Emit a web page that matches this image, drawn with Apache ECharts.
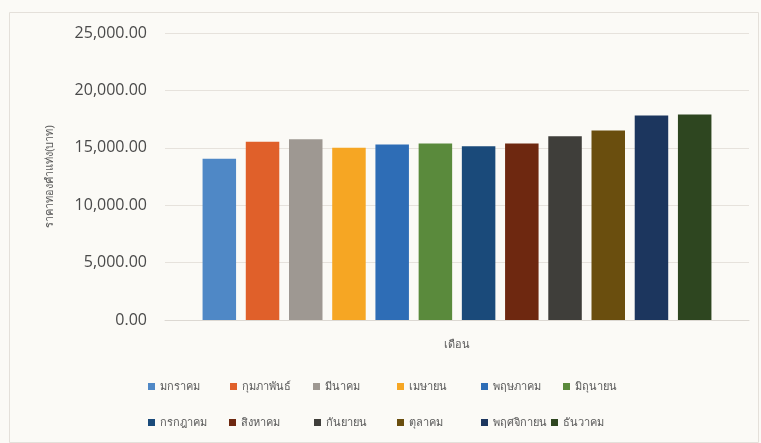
<!DOCTYPE html>
<html>
<head>
<meta charset="utf-8">
<script src="https://cdn.jsdelivr.net/npm/echarts@6/dist/echarts.min.js"></script>
<style>
html,body{margin:0;padding:0;background:#fbfaf6;}
#c{width:761px;height:443px;}
</style>
</head>
<body>
<div id="c"></div>
<script>
const months = ['มกราคม','กุมภาพันธ์','มีนาคม','เมษายน','พฤษภาคม','มิถุนายน','กรกฎาคม','สิงหาคม','กันยายน','ตุลาคม','พฤศจิกายน','ธันวาคม'];
const prices = [14040, 15520, 15750, 15000, 15290, 15380, 15140, 15380, 16010, 16510, 17810, 17900];
const colors = ['#4f88c6','#e0602a','#9e9892','#f6a623','#2e6db6','#5a8a3c','#1a4a7a','#6e2810','#3f3e3a','#6a4e0e','#1c365e','#2e4620'];
const yTicks = [0, 5000, 10000, 15000, 20000, 25000];
const xTitle = 'เดือน';
const yTitle = 'ราคาทองคำแท่ง(บาท)';

const chart = echarts.init(document.getElementById('c'));
const thaiFont = '"Noto Sans", "DejaVu Sans", sans-serif';

const series = months.map((m, i) => ({
  name: m,
  type: 'bar',
  data: [prices[i]],
  barWidth: 33.5,
  barGap: '29%',
  itemStyle: { color: colors[i] }
}));

// legend layout: Excel-like two rows of six columns
const legendCols = [[148, 230, 313, 397, 481, 563], [148, 229, 314, 397, 481, 551]];
const legendRowTop = [376, 412];
const legends = months.map((m, i) => {
  const row = Math.floor(i / 6), col = i % 6;
  return {
    data: [m],
    left: legendCols[row][col] - 5,
    top: legendRowTop[row],
    itemWidth: 7,
    itemHeight: 7,
    itemGap: 0,
    icon: 'rect',
    textStyle: { fontFamily: thaiFont, fontSize: 11, color: '#595959' }
  };
});

chart.setOption({
  backgroundColor: '#fbfaf6',
  animation: false,
  graphic: [{
    type: 'rect', left: 7, top: 10,
    shape: { width: 749, height: 430 },
    style: { fill: 'none', stroke: '#e4e0da', lineWidth: 1 }
  }],
  grid: { left: 165, right: 12, top: 33, bottom: 123 },
  legend: legends,
  xAxis: {
    type: 'category',
    data: [''],
    name: xTitle,
    nameLocation: 'middle',
    nameGap: 19,
    nameTextStyle: { fontFamily: thaiFont, fontSize: 11, color: '#595959' },
    axisLine: { show: true, lineStyle: { color: '#dcd8d2' } },
    axisTick: { show: false },
    axisLabel: { show: false }
  },
  yAxis: {
    type: 'value',
    min: yTicks[0],
    max: yTicks[yTicks.length - 1],
    interval: yTicks[1] - yTicks[0],
    name: yTitle,
    nameLocation: 'middle',
    nameGap: 110,
    nameTextStyle: { fontFamily: thaiFont, fontSize: 11, color: '#595959' },
    axisLine: { show: false },
    axisTick: { show: false },
    splitLine: { lineStyle: { color: '#e6e2dc' } },
    axisLabel: {
      margin: 18,
      fontFamily: '"Open Sans", sans-serif',
      fontSize: 16,
      color: '#4a4a4a',
      formatter: v => v.toLocaleString('en-US', { minimumFractionDigits: 2, maximumFractionDigits: 2 })
    }
  },
  series: series
});
</script>
</body>
</html>
